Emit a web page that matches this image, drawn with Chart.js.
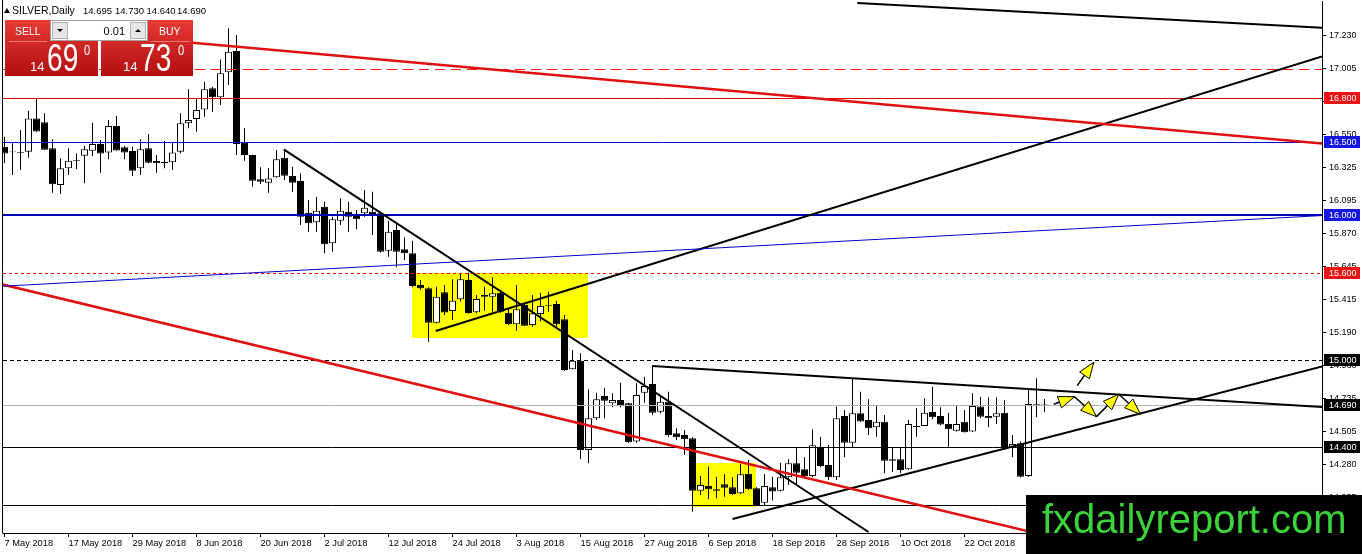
<!DOCTYPE html>
<html>
<head>
<meta charset="utf-8">
<script src="https://cdn.jsdelivr.net/npm/chart.js@4.4.1/dist/chart.umd.min.js"></script>
<style>
  html, body { margin: 0; padding: 0; background: #fff; overflow: hidden; }
  #wrap { position: relative; width: 1362px; height: 554px; }
</style>
</head>
<body>
<div id="wrap"><canvas id="chart"></canvas></div>
<script>
// SILVER daily, 7 May 2018 .. 5 Nov 2018 (one entry per trading day)
const dateLabels = ['7 May 2018', '17 May 2018', '29 May 2018', '8 Jun 2018', '20 Jun 2018', '2 Jul 2018',
  '12 Jul 2018', '24 Jul 2018', '3 Aug 2018', '15 Aug 2018', '27 Aug 2018', '6 Sep 2018',
  '18 Sep 2018', '28 Sep 2018', '10 Oct 2018', '22 Oct 2018'];
const dateTickIdx = [0, 8, 16, 24, 32, 40, 48, 56, 64, 72, 80, 88, 96, 104, 112, 120];
const priceTicks = [17.230, 17.005, 16.775, 16.550, 16.325, 16.095, 15.870, 15.645, 15.415, 15.190,
  14.960, 14.735, 14.505, 14.280, 14.055];

const opens = [
  16.467, 16.434, 16.430, 16.432, 16.662, 16.635, 16.456, 16.203, 16.318, 16.369,
  16.405, 16.439, 16.486, 16.428, 16.609, 16.463, 16.437, 16.318, 16.456, 16.369,
  16.364, 16.360, 16.432, 16.628, 16.658, 16.724, 16.869, 16.807, 16.979, 17.126,
  16.494, 16.410, 16.243, 16.219, 16.256, 16.391, 16.265, 16.231, 16.013, 15.947,
  16.054, 15.802, 15.958, 16.020, 15.990, 16.009, 16.020, 16.009, 15.751, 15.894,
  15.761, 15.733, 15.515, 15.492, 15.256, 15.465, 15.336, 15.417, 15.550, 15.327,
  15.446, 15.435, 15.462, 15.324, 15.245, 15.378, 15.240, 15.316, 15.373, 15.385,
  15.279, 14.935, 14.994, 14.380, 14.598, 14.751, 14.701, 14.724, 14.701, 14.437,
  14.774, 14.834, 14.643, 14.712, 14.494, 14.483, 14.460, 14.099, 14.132, 14.109,
  14.143, 14.123, 14.082, 14.215, 14.116, 14.017, 14.123, 14.099, 14.192, 14.288,
  14.247, 14.201, 14.402, 14.276, 14.192, 14.614, 14.430, 14.632, 14.586, 14.536,
  14.574, 14.316, 14.316, 14.247, 14.545, 14.545, 14.641, 14.614, 14.558, 14.512,
  14.574, 14.506, 14.678, 14.614, 14.609, 14.636, 14.398, 14.426, 14.201, 14.694, 14.695];
const highs = [
  16.536, 16.490, 16.582, 16.715, 16.800, 16.697, 16.518, 16.387, 16.456, 16.421,
  16.472, 16.632, 16.513, 16.651, 16.678, 16.472, 16.467, 16.518, 16.554, 16.410,
  16.506, 16.501, 16.697, 16.862, 16.795, 16.914, 16.880, 17.068, 17.282, 17.236,
  16.594, 16.412, 16.325, 16.318, 16.444, 16.449, 16.329, 16.284, 16.100, 16.123,
  16.088, 15.985, 16.112, 16.088, 16.031, 16.169, 16.157, 16.020, 15.958, 15.940,
  15.843, 15.820, 15.550, 15.499, 15.503, 15.515, 15.554, 15.600, 15.600, 15.446,
  15.503, 15.568, 15.469, 15.355, 15.515, 15.394, 15.446, 15.462, 15.469, 15.407,
  15.309, 15.068, 15.045, 14.797, 14.774, 14.808, 14.770, 14.843, 14.705, 14.839,
  14.884, 14.953, 14.758, 14.781, 14.529, 14.517, 14.467, 14.201, 14.265, 14.196,
  14.214, 14.192, 14.283, 14.311, 14.123, 14.214, 14.196, 14.292, 14.316, 14.391,
  14.329, 14.522, 14.471, 14.414, 14.678, 14.655, 14.873, 14.781, 14.728, 14.682,
  14.620, 14.398, 14.398, 14.586, 14.667, 14.735, 14.815, 14.674, 14.636, 14.682,
  14.655, 14.770, 14.746, 14.742, 14.742, 14.724, 14.483, 14.437, 14.792, 14.873, 14.730];
const lows = [
  16.353, 16.272, 16.307, 16.391, 16.568, 16.444, 16.150, 16.141, 16.272, 16.311,
  16.215, 16.403, 16.288, 16.380, 16.439, 16.380, 16.265, 16.272, 16.353, 16.288,
  16.318, 16.307, 16.421, 16.594, 16.570, 16.673, 16.708, 16.754, 16.892, 16.410,
  16.371, 16.192, 16.210, 16.150, 16.254, 16.238, 16.157, 15.928, 15.882, 15.882,
  15.733, 15.744, 15.928, 15.882, 15.898, 15.985, 15.859, 15.737, 15.710, 15.637,
  15.687, 15.503, 15.481, 15.125, 15.251, 15.309, 15.274, 15.401, 15.318, 15.320,
  15.338, 15.331, 15.324, 15.240, 15.200, 15.233, 15.228, 15.263, 15.331, 15.228,
  14.923, 14.933, 14.315, 14.288, 14.586, 14.598, 14.673, 14.673, 14.428, 14.430,
  14.705, 14.621, 14.632, 14.471, 14.448, 14.345, 13.955, 14.070, 14.040, 14.047,
  14.058, 14.070, 14.077, 14.104, 13.994, 14.001, 14.031, 14.093, 14.139, 14.139,
  14.185, 14.192, 14.260, 14.173, 14.173, 14.329, 14.398, 14.572, 14.483, 14.471,
  14.219, 14.230, 14.219, 14.242, 14.471, 14.543, 14.591, 14.550, 14.402, 14.506,
  14.499, 14.504, 14.598, 14.536, 14.558, 14.380, 14.329, 14.192, 14.196, 14.605, 14.640];
const closes = [
  16.421, 16.429, 16.426, 16.662, 16.572, 16.446, 16.208, 16.318, 16.371, 16.373,
  16.449, 16.486, 16.421, 16.609, 16.441, 16.428, 16.302, 16.449, 16.357, 16.353,
  16.353, 16.428, 16.628, 16.651, 16.720, 16.862, 16.807, 16.972, 17.121, 16.486,
  16.410, 16.233, 16.226, 16.249, 16.380, 16.267, 16.219, 15.985, 15.940, 16.027,
  15.795, 15.967, 16.027, 15.985, 15.967, 16.047, 15.997, 15.744, 15.882, 15.744,
  15.733, 15.508, 15.492, 15.256, 15.435, 15.325, 15.407, 15.554, 15.322, 15.419,
  15.435, 15.458, 15.331, 15.247, 15.348, 15.235, 15.320, 15.371, 15.378, 15.245,
  14.930, 14.994, 14.380, 14.598, 14.729, 14.719, 14.724, 14.689, 14.432, 14.758,
  14.820, 14.636, 14.712, 14.483, 14.467, 14.453, 14.099, 14.139, 14.109, 14.099,
  14.120, 14.077, 14.212, 14.109, 14.001, 14.132, 14.093, 14.192, 14.288, 14.223,
  14.201, 14.412, 14.269, 14.192, 14.598, 14.430, 14.632, 14.576, 14.529, 14.574,
  14.306, 14.306, 14.242, 14.559, 14.536, 14.636, 14.605, 14.554, 14.522, 14.558,
  14.501, 14.682, 14.609, 14.598, 14.632, 14.391, 14.421, 14.196, 14.696, 14.689, 14.690];

// horizontal levels and the ones tagged on the price axis
const levelPrices = [17.000, 16.800, 16.500, 16.000, 15.600, 15.000, 14.690, 14.400, 14.000];
const tagPrices = [16.800, 16.500, 16.000, 15.600, 15.000, 14.690, 14.400];

// analyst drawings, in [bar index, price]
const trendLines = [
  [[106.6, 17.456], [164.7, 17.286]],
  [[53.9, 15.199], [164.7, 17.088]],
  [[34.9, 16.449], [108.0, 13.815]],
  [[80.96, 14.958], [164.7, 14.675]],
  [[91.0, 13.905], [164.7, 14.954]],
  [[-0.5, 15.522], [137.0, 13.700]],
  [[23.5, 17.183], [164.7, 16.489]],
  [[-0.5, 15.506], [164.7, 15.993]]
];
const zoneBoxes = [[50.9, 72.9, 15.600, 15.148], [85.9, 93.9, 14.292, 13.985]];
const zigzag = [[131.16, 14.694], [133.75, 14.746], [136.5, 14.609], [139.29, 14.763], [142.0, 14.625]];
const upArrow = [[134.09, 14.822], [136.16, 14.983]];

const lineStyle = [
  { color: '#000', width: 2 }, { color: '#000', width: 2 }, { color: '#000', width: 2 },
  { color: '#000', width: 2 }, { color: '#000', width: 2 }, { color: '#e01010', width: 2.5 },
  { color: '#e01010', width: 2.5 }, { color: '#0000d0', width: 1 }
];
const levelStyle = [
  { color: '#f01818', width: 1, dash: [10, 6] }, { color: '#e00000', width: 1, dash: [] },
  { color: '#0000e0', width: 1, dash: [] }, { color: '#0000b4', width: 2, dash: [] },
  { color: '#ff0000', width: 1, dash: [3, 3] }, { color: '#000', width: 1, dash: [4, 3] },
  { color: '#b4b4b4', width: 1, dash: [] }, { color: '#000', width: 1, dash: [] },
  { color: '#000', width: 1, dash: [] }
];
const tagColors = ['#ee1111', '#1515e6', '#1515e6', '#ee1111', '#000', '#000', '#000'];

const wicks = opens.map((o, i) => ({ x: i, y: [lows[i], highs[i]] }));
const bodies = opens.map((o, i) => ({ x: i, y: [o, closes[i]] }));
const bodyFill = opens.map((o, i) => closes[i] >= o ? '#fff' : '#000');

function drawArrow(ctx, x0, y0, x1, y1) {
  const ang = Math.atan2(y1 - y0, x1 - x0);
  const hl = 16, hw = 6;
  ctx.strokeStyle = '#000';
  ctx.lineWidth = 1.5;
  ctx.setLineDash([]);
  ctx.beginPath(); ctx.moveTo(x0, y0); ctx.lineTo(x1, y1); ctx.stroke();
  const bx = x1 - hl * Math.cos(ang), by = y1 - hl * Math.sin(ang);
  const nx = -Math.sin(ang) * hw, ny = Math.cos(ang) * hw;
  ctx.beginPath();
  ctx.moveTo(x1, y1); ctx.lineTo(bx + nx, by + ny); ctx.lineTo(bx - nx, by - ny); ctx.closePath();
  ctx.fillStyle = '#ffff00'; ctx.fill();
  ctx.lineWidth = 1; ctx.stroke();
}

function drawPanel(ctx) {
  const g = ctx.createLinearGradient(0, 20, 0, 76);
  g.addColorStop(0, '#e63a36'); g.addColorStop(1, '#b20f0f');
  ctx.fillStyle = g;
  ctx.fillRect(5, 20, 93, 56);
  ctx.fillRect(101, 20, 92, 56);
  ctx.strokeStyle = '#f07a78'; ctx.lineWidth = 1;
  ctx.beginPath(); ctx.moveTo(9, 41.5); ctx.lineTo(47, 41.5); ctx.moveTo(150, 41.5); ctx.lineTo(190, 41.5); ctx.stroke();
  // lot size box
  ctx.fillStyle = '#fff'; ctx.fillRect(50, 20, 98, 21);
  ctx.strokeStyle = '#a0a0a0'; ctx.strokeRect(50.5, 20.5, 97, 20);
  ctx.fillStyle = '#e6e6e6'; ctx.fillRect(52, 22, 16, 17); ctx.fillRect(130, 22, 16, 17);
  ctx.strokeStyle = '#b0b0b0'; ctx.strokeRect(52.5, 22.5, 15, 16); ctx.strokeRect(130.5, 22.5, 15, 16);
  ctx.fillStyle = '#000';
  ctx.beginPath(); ctx.moveTo(57, 29); ctx.lineTo(63, 29); ctx.lineTo(60, 32); ctx.closePath(); ctx.fill();
  ctx.beginPath(); ctx.moveTo(135, 32); ctx.lineTo(141, 32); ctx.lineTo(138, 29); ctx.closePath(); ctx.fill();
  ctx.font = '11px "Liberation Sans"'; ctx.textAlign = 'right'; ctx.textBaseline = 'alphabetic';
  ctx.fillText('0.01', 125, 35);
  ctx.fillStyle = '#fff'; ctx.textAlign = 'left';
  ctx.font = '10.5px "Liberation Sans"';
  ctx.fillText('SELL', 15, 35);
  ctx.fillText('BUY', 159, 35);
  ctx.font = '13px "Liberation Sans"';
  ctx.fillText('14', 30, 71);
  ctx.fillText('14', 123, 71);
  [['69', 47, '0', 84], ['73', 140, '0', 178]].forEach(([big, bx, sup, sx]) => {
    ctx.save(); ctx.translate(bx, 71); ctx.scale(0.74, 1);
    ctx.font = '38px "Liberation Sans"'; ctx.fillText(big, 0, 0); ctx.restore();
    ctx.save(); ctx.translate(sx, 55); ctx.scale(0.8, 1);
    ctx.font = '14px "Liberation Sans"'; ctx.fillText(sup, 0, 0); ctx.restore();
  });
}

const overlay = {
  id: 'overlay',
  beforeDatasetsDraw(chart) {
    const { ctx, chartArea: a, scales: { x, y } } = chart;
    ctx.save();
    ctx.beginPath(); ctx.rect(a.left, a.top, a.right - a.left, a.bottom - a.top); ctx.clip();
    ctx.fillStyle = '#ffff00';
    zoneBoxes.forEach(([i0, i1, p0, p1]) => {
      const x0 = Math.round(x.getPixelForValue(i0)), x1 = Math.round(x.getPixelForValue(i1));
      const y0 = Math.round(y.getPixelForValue(p0)), y1 = Math.round(y.getPixelForValue(p1));
      ctx.fillRect(x0, y0, x1 - x0, y1 - y0);
    });
    ctx.restore();
  },
  afterDatasetsDraw(chart) {
    const { ctx, chartArea: a, scales: { x, y } } = chart;
    ctx.save();
    ctx.beginPath(); ctx.rect(a.left, a.top, a.right - a.left, a.bottom - a.top); ctx.clip();
    levelPrices.forEach((p, k) => {
      const s = levelStyle[k];
      const py = s.width === 1 ? Math.round(y.getPixelForValue(p)) + 0.5 : Math.round(y.getPixelForValue(p));
      ctx.strokeStyle = s.color; ctx.lineWidth = s.width; ctx.setLineDash(s.dash);
      ctx.beginPath(); ctx.moveTo(a.left, py); ctx.lineTo(a.right, py); ctx.stroke();
    });
    ctx.setLineDash([]);
    trendLines.forEach(([p0, p1], k) => {
      ctx.strokeStyle = lineStyle[k].color; ctx.lineWidth = lineStyle[k].width;
      ctx.beginPath();
      ctx.moveTo(x.getPixelForValue(p0[0]), y.getPixelForValue(p0[1]));
      ctx.lineTo(x.getPixelForValue(p1[0]), y.getPixelForValue(p1[1]));
      ctx.stroke();
    });
    for (let k = 0; k < zigzag.length - 1; k++) {
      drawArrow(ctx, x.getPixelForValue(zigzag[k][0]), y.getPixelForValue(zigzag[k][1]),
        x.getPixelForValue(zigzag[k + 1][0]), y.getPixelForValue(zigzag[k + 1][1]));
    }
    drawArrow(ctx, x.getPixelForValue(upArrow[0][0]), y.getPixelForValue(upArrow[0][1]),
      x.getPixelForValue(upArrow[1][0]), y.getPixelForValue(upArrow[1][1]));
    ctx.restore();
  },
  afterDraw(chart) {
    const { ctx, chartArea: a, scales: { y } } = chart;
    ctx.save();
    // left frame
    ctx.strokeStyle = '#000'; ctx.lineWidth = 1;
    ctx.beginPath(); ctx.moveTo(2.5, 0); ctx.lineTo(2.5, a.bottom + 0.5); ctx.stroke();
    // price tags
    ctx.font = '9px "Liberation Sans"'; ctx.textBaseline = 'middle'; ctx.textAlign = 'left';
    tagPrices.forEach((p, k) => {
      const py = Math.round(y.getPixelForValue(p));
      ctx.fillStyle = tagColors[k];
      ctx.fillRect(a.right + 2, py - 6, 36, 12);
      ctx.fillStyle = '#fff';
      ctx.fillText(p.toFixed(3), a.right + 7, py + 0.5);
    });
    // header
    ctx.fillStyle = '#000';
    ctx.beginPath(); ctx.moveTo(4, 13); ctx.lineTo(10, 13); ctx.lineTo(7, 8); ctx.closePath(); ctx.fill();
    ctx.textBaseline = 'alphabetic';
    ctx.font = '10.5px "Liberation Sans"';
    ctx.fillText('SILVER,Daily', 12, 14);
    ctx.font = '9.5px "Liberation Sans"';
    [['14.695', 83], ['14.730', 115], ['14.640', 146.5], ['14.690', 177]].forEach(([t, tx]) => ctx.fillText(t, tx, 14));
    drawPanel(ctx);
    // watermark
    ctx.fillStyle = '#000';
    ctx.fillRect(1026, 495, 336, 59);
    ctx.fillStyle = '#3cd23c';
    ctx.font = '40px "Liberation Sans"'; ctx.textAlign = 'left';
    ctx.fillText('fxdailyreport.com', 1042, 533);
    ctx.restore();
  }
};

new Chart(document.getElementById('chart'), {
  type: 'bar',
  data: {
    datasets: [
      { data: wicks, backgroundColor: '#000', barThickness: 1, borderWidth: 0, inflateAmount: 0, grouped: false, order: 2 },
      { data: bodies, backgroundColor: bodyFill, borderColor: '#000', borderWidth: 1, borderSkipped: false,
        barThickness: 7, inflateAmount: 0, grouped: false, order: 1 }
    ]
  },
  options: {
    responsive: true,
    maintainAspectRatio: false,
    animation: false,
    events: [],
    layout: { padding: { left: 3, top: 1, right: 0, bottom: 0 } },
    plugins: { legend: { display: false }, tooltip: { enabled: false } },
    scales: {
      x: {
        type: 'linear', min: -0.1875, max: 164.6875, offset: false,
        grid: { drawOnChartArea: false, offset: false, tickLength: 4, color: '#000' },
        border: { display: true, color: '#000' },
        afterBuildTicks: s => { s.ticks = dateTickIdx.map(v => ({ value: v })); },
        afterFit: s => { s.height = 21; s.paddingLeft = 0; s.paddingRight = 0; },
        ticks: {
          autoSkip: false, maxRotation: 0, minRotation: 0, align: 'start', padding: 1, color: '#000',
          font: { family: 'Liberation Sans', size: 9.3 },
          callback: (v, i) => dateLabels[i]
        }
      },
      y: {
        position: 'right', min: 13.808, max: 17.470, beginAtZero: false,
        grid: { drawOnChartArea: false, tickLength: 4, color: '#000' },
        border: { display: true, color: '#000' },
        afterBuildTicks: s => { s.ticks = priceTicks.map(v => ({ value: v })); },
        afterFit: s => { s.width = 40; s.paddingTop = 0; s.paddingBottom = 0; },
        ticks: {
          padding: 3, color: '#000', font: { family: 'Liberation Sans', size: 9 },
          callback: v => v.toFixed(3)
        }
      }
    }
  },
  plugins: [overlay]
});
</script>
</body>
</html>
